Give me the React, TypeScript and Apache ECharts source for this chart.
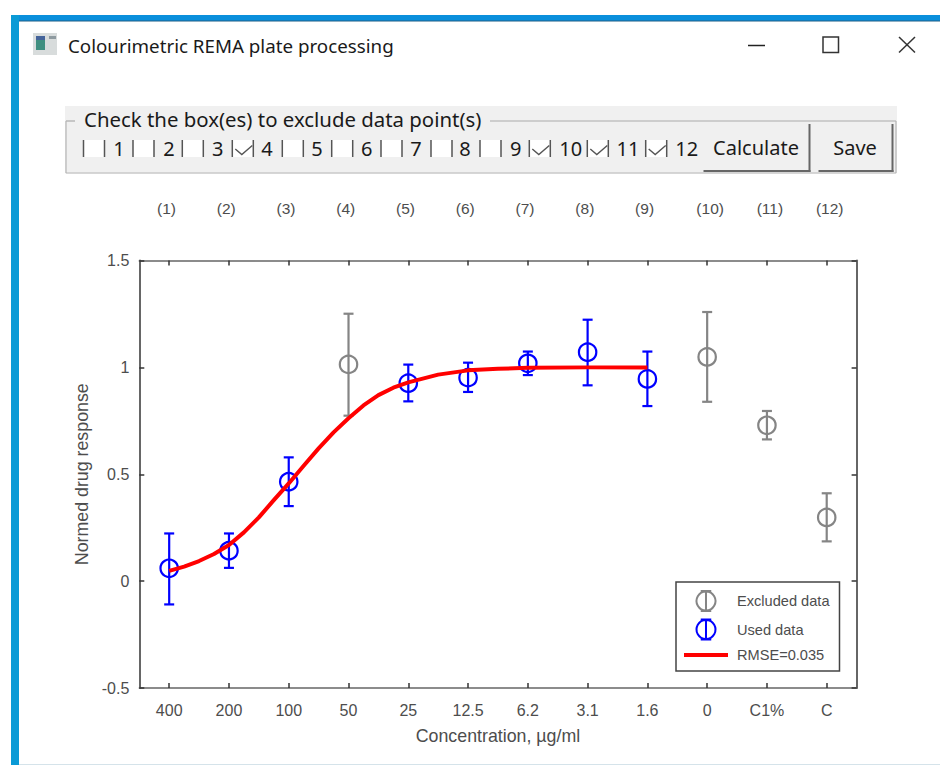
import React, { useEffect, useRef } from "react";
import * as echarts from "echarts";

const concentrations = ["400", "200", "100", "50", "25", "12.5", "6.2", "3.1", "1.6", "0", "C1%", "C"];
const wellLabels = ["(1)", "(2)", "(3)", "(4)", "(5)", "(6)", "(7)", "(8)", "(9)", "(10)", "(11)", "(12)"];
const means = [0.06, 0.142, 0.465, 1.014, 0.926, 0.952, 1.019, 1.071, 0.946, 1.049, 0.729, 0.298];
const uppers = [0.223, 0.223, 0.579, 1.251, 1.013, 1.022, 1.074, 1.223, 1.074, 1.259, 0.796, 0.411];
const lowers = [-0.109, 0.062, 0.351, 0.774, 0.841, 0.885, 0.964, 0.916, 0.819, 0.839, 0.663, 0.186];
const excludedWells = [4, 10, 11, 12];
const fitX = [1, 1.25, 1.5, 1.75, 2, 2.25, 2.5, 2.75, 3, 3.25, 3.5, 3.75, 4, 4.25, 4.5, 4.75, 5, 5.5, 6, 6.5, 7, 8, 9];
const fitY = [0.048, 0.068, 0.094, 0.127, 0.169, 0.228, 0.298, 0.379, 0.457, 0.54, 0.621, 0.696, 0.762, 0.822, 0.87, 0.905, 0.93, 0.966, 0.986, 0.993, 0.998, 1.0, 1.0];
const checkboxNumbers = ["1", "2", "3", "4", "5", "6", "7", "8", "9", "10", "11", "12"];
const yTicks = { min: -0.5, max: 1.5, interval: 0.5 };

const PLOT_FONT = "'Liberation Sans', Arial, sans-serif";
const UI_FONT = "'Noto Sans', sans-serif";
const GREY = "#858585";
const BLUE = "#0000ff";
const AXIS = "#666666";
const TEXT = "#4d4d4d";

const boxLefts = [83.5, 133, 182.3, 232.3, 282.3, 331.7, 381, 431, 480, 529.3, 587.3, 645.7];
const digitCentres = [119, 169, 217.7, 267, 317, 366.7, 416, 465, 515.7, 570.7, 628, 686.7];

const seriesRows = (excluded: boolean) =>
  concentrations
    .map((_, i) => [i + 1, means[i], uppers[i], lowers[i]])
    .filter((r) => excludedWells.includes(r[0]) === excluded);

const renderErr = (colour: string) => (_: any, api: any) => {
  const x = api.value(0);
  const c = api.coord([x, api.value(1)]);
  const u = api.coord([x, api.value(2)]);
  const l = api.coord([x, api.value(3)]);
  const s = { stroke: colour, lineWidth: 2.2, fill: "none" };
  const line = (x1: number, y1: number, x2: number, y2: number) => ({
    type: "line",
    shape: { x1, y1, x2, y2 },
    style: s,
  });
  return {
    type: "group",
    children: [
      line(c[0], u[1], c[0], l[1]),
      line(c[0] - 5, u[1], c[0] + 5, u[1]),
      line(c[0] - 5, l[1], c[0] + 5, l[1]),
      { type: "circle", shape: { cx: c[0], cy: c[1], r: 8.7 }, style: s },
    ],
  };
};

const ICON = "path://M10 .5V19.5M5 .5H15M5 19.5H15M10 1a9 9 0 1 0 .01 0Z";

const uiText = (text: string, x: number, y: number, fontSize = 20, align = "center", fill = "#1a1a1a") => ({
  type: "text",
  x,
  y,
  silent: true,
  style: { text, fontSize, fontFamily: UI_FONT, fill, textAlign: align, textVerticalAlign: "middle" },
});
const rect = (x: number, y: number, width: number, height: number, fill: string) => ({
  type: "rect",
  silent: true,
  shape: { x, y, width, height },
  style: { fill },
});
const seg = (x1: number, y1: number, x2: number, y2: number, stroke: string, lineWidth = 1.5) => ({
  type: "line",
  silent: true,
  shape: { x1, y1, x2, y2 },
  style: { stroke, lineWidth },
});

const windowGraphics = () => {
  const els: any[] = [
    rect(11, 15, 929, 6, "#0a8fdc"),
    rect(11, 15, 8, 750, "#0a9ad6"),
    rect(19, 20.5, 921, 1, "#1f5f86"),
    rect(19, 764, 921, 1, "#d5e3ea"),
    rect(33, 33, 24, 22, "#d8dcdc"),
    rect(36, 38, 9, 12, "#3f8f80"),
    rect(36, 36, 9, 4, "#44639a"),
    rect(49, 36, 7, 3, "#8e9aa0"),
    uiText("Colourimetric REMA plate processing", 68, 45, 18.75, "left"),
    seg(748, 45.5, 765, 45.5, "#222222"),
    { type: "rect", silent: true, shape: { x: 823, y: 37, width: 15.5, height: 15.5 }, style: { fill: "none", stroke: "#333333", lineWidth: 1.5 } },
    seg(899, 37, 915, 52.5, "#333333"),
    seg(915, 37, 899, 52.5, "#333333"),
    rect(65, 106, 832, 67.5, "#f0f0f0"),
    seg(66, 121, 75, 121, "#a9a9a9", 1.2),
    seg(490, 121, 896, 121, "#a9a9a9", 1.2),
    seg(66, 121, 66, 173, "#b5b5b5", 1.2),
    seg(66, 173, 896, 173, "#b5b5b5", 1.2),
    seg(896, 121, 896, 173, "#b5b5b5", 1.2),
    uiText("Check the box(es) to exclude data point(s)", 84, 119, 20.4, "left"),
  ];
  checkboxNumbers.forEach((n, i) => {
    const L = boxLefts[i];
    els.push(rect(L, 140, 21, 17, "#ffffff"));
    els.push(seg(L, 140, L, 157, "#555555"));
    els.push(seg(L + 21, 140, L + 21, 157, "#555555"));
    els.push(uiText(n, digitCentres[i], 148.5, 20));
    if (excludedWells.includes(i + 1)) {
      els.push({
        type: "polyline",
        silent: true,
        shape: { points: [[L + 3, 149], [L + 9.5, 154.5], [L + 20, 145.5]] },
        style: { stroke: "#555555", lineWidth: 1.4, fill: "none" },
      });
    }
  });
  const button = (x: number, w: number, label: string) => {
    els.push(rect(x, 124, w, 47.5, "#f0f0f0"));
    els.push(seg(x + w - 1, 124, x + w - 1, 172, "#666666", 2));
    els.push(seg(x, 171, x + w, 171, "#666666", 2));
    els.push(uiText(label, x + w / 2 - 1, 147, 20));
  };
  button(703.5, 107, "Calculate");
  button(818.5, 75, "Save");
  wellLabels.forEach((t, i) => {
    els.push({
      type: "text",
      silent: true,
      x: 169.3 + i * 59.76 + (i < 9 ? -2.8 : 3),
      y: 208,
      style: { text: t, fontSize: 15.5, fontFamily: PLOT_FONT, fill: TEXT, textAlign: "center", textVerticalAlign: "middle" },
    });
  });
  return els;
};

export default function App() {
  const ref = useRef<HTMLDivElement>(null);
  useEffect(() => {
    const chart = echarts.init(ref.current!, undefined, { renderer: "svg" });
    const tickStyle = { show: true, inside: true, length: 5, alignWithInterval: true, lineStyle: { color: "#333333", width: 1.5 } };
    chart.setOption({
      animation: false,
      backgroundColor: "#ffffff",
      textStyle: { fontFamily: PLOT_FONT },
      grid: { left: 139.3, right: 83.4, top: 260.5, bottom: 77, containLabel: false },
      legend: {
        left: 676,
        top: 582,
        orient: "vertical",
        selectedMode: false,
        backgroundColor: "#ffffff",
        borderColor: "#444444",
        borderWidth: 1.5,
        padding: [8, 10, 8, 6],
        itemGap: 6.5,
        itemWidth: 44,
        itemHeight: 20,
        textStyle: { fontSize: 14.6, fontFamily: PLOT_FONT, color: TEXT, padding: [0, 0, 0, 4] },
        data: [
          { name: "Excluded data", icon: ICON, itemStyle: { color: "transparent", borderColor: GREY, borderWidth: 2 } },
          { name: "Used data", icon: ICON, itemStyle: { color: "transparent", borderColor: BLUE, borderWidth: 2 } },
          { name: "RMSE=0.035", itemStyle: { opacity: 0 }, lineStyle: { color: "#ff0000", width: 4 } },
        ],
      },
      xAxis: [
        {
          type: "category",
          position: "bottom",
          data: concentrations,
          boundaryGap: true,
          axisLine: { onZero: false, lineStyle: { color: AXIS, width: 1.5 } },
          axisTick: { ...tickStyle, alignWithLabel: true },
          axisLabel: { interval: 0, fontSize: 16, color: TEXT, margin: 14 },
          name: "Concentration, µg/ml",
          nameLocation: "middle",
          nameGap: 39,
          nameTextStyle: { fontSize: 17.8, color: TEXT },
        },
        {
          type: "category",
          position: "top",
          data: concentrations,
          boundaryGap: true,
          axisLine: { onZero: false, lineStyle: { color: AXIS, width: 1.5 } },
          axisTick: { ...tickStyle, alignWithLabel: true },
          axisLabel: { show: false },
        },
        { type: "value", show: false, min: 0.5, max: 12.5, position: "bottom" },
      ],
      yAxis: [
        {
          type: "value",
          position: "left",
          ...yTicks,
          axisLine: { show: true, onZero: false, lineStyle: { color: AXIS, width: 2 } },
          axisTick: tickStyle,
          splitLine: { show: false },
          axisLabel: { fontSize: 16, color: TEXT, margin: 10, padding: [2, 0, 0, 0] },
          name: "Normed drug response",
          nameLocation: "middle",
          nameGap: 47,
          nameTextStyle: { fontSize: 17.8, color: TEXT },
        },
        {
          type: "value",
          position: "right",
          ...yTicks,
          axisLine: { show: true, onZero: false, lineStyle: { color: AXIS, width: 2 } },
          axisTick: tickStyle,
          splitLine: { show: false },
          axisLabel: { show: false },
        },
      ],
      series: [
        {
          name: "Excluded data",
          type: "custom",
          xAxisIndex: 2,
          yAxisIndex: 0,
          renderItem: renderErr(GREY),
          encode: { x: 0, y: [1, 2, 3] },
          data: seriesRows(true),
          itemStyle: { color: GREY },
          z: 3,
        },
        {
          name: "Used data",
          type: "custom",
          xAxisIndex: 2,
          yAxisIndex: 0,
          renderItem: renderErr(BLUE),
          encode: { x: 0, y: [1, 2, 3] },
          data: seriesRows(false),
          itemStyle: { color: BLUE },
          z: 3,
        },
        {
          name: "RMSE=0.035",
          type: "line",
          xAxisIndex: 2,
          yAxisIndex: 0,
          showSymbol: false,
          symbol: "none",
          smooth: false,
          lineStyle: { color: "#ff0000", width: 4, join: "round" },
          itemStyle: { color: "#ff0000" },
          data: fitX.map((x, i) => [x, fitY[i]]),
          z: 4,
        },
      ],
      graphic: { elements: windowGraphics() },
    });
    return () => chart.dispose();
  }, []);
  return <div ref={ref} style={{ position: "absolute", left: 0, top: 0, width: 940, height: 765 }} />;
}
